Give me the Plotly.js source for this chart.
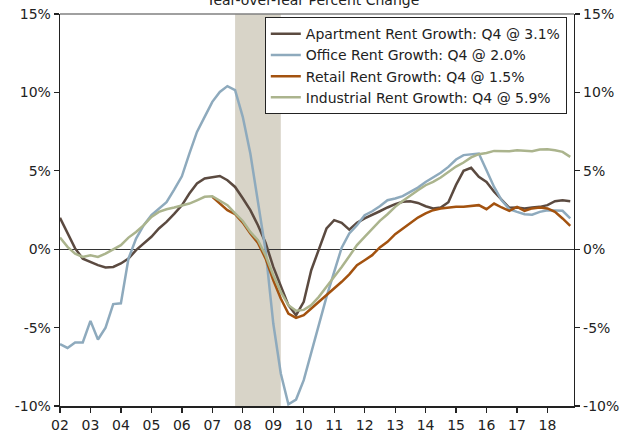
<!DOCTYPE html>
<html>
<head>
<meta charset="utf-8">
<script src="https://cdn.plot.ly/plotly-3.0.1.min.js"></script>
<style>html,body{margin:0;padding:0;background:#fff;}#chart{width:626px;height:435px;}</style>
</head>
<body>
<div id="chart"></div>
<script>
// Quarterly data, 2002 Q1 through 2018 Q4
var startYear = 2002;
var endYear = 2018;

var apartment = [2.0, 1.0, 0.05, -0.6, -0.81, -1.02, -1.17, -1.13, -0.91, -0.6, -0.06, 0.36, 0.79, 1.32, 1.74, 2.25,
  2.8, 3.55, 4.19, 4.51, 4.61, 4.67, 4.4, 3.97, 3.25, 2.49, 1.53, 0.4, -1.13, -2.4, -3.57, -4.21,
  -3.36, -1.34, -0.06, 1.32, 1.85, 1.68, 1.25, 1.68, 1.96, 2.17, 2.42, 2.66, 2.87, 3.02, 3.06, 2.95,
  2.74, 2.6, 2.66, 3.0, 4.1, 5.0, 5.19, 4.61, 4.29, 3.66, 3.12, 2.64, 2.66, 2.6, 2.66, 2.7,
  2.81, 3.06, 3.12, 3.06];

var office = [-6.06, -6.3, -5.95, -5.95, -4.57, -5.76, -5.0, -3.5, -3.45, -0.6, 0.68, 1.53, 2.17, 2.6, 3.0, 3.8,
  4.65, 6.1, 7.48, 8.44, 9.4, 10.03, 10.4, 10.14, 8.44, 6.1, 3.12, -0.1, -4.74, -7.93, -9.89, -9.59,
  -8.35, -6.55, -4.85, -3.04, -1.45, 0.1, 1.0, 1.53, 2.17, 2.42, 2.74, 3.12, 3.23, 3.38, 3.66, 3.93,
  4.29, 4.57, 4.87, 5.25, 5.72, 6.0, 6.06, 6.1, 5.04, 3.97, 3.12, 2.55, 2.38, 2.23, 2.2, 2.38,
  2.49, 2.45, 2.45, 1.96];

var retail = [null, null, null, null, null, null, null, null, null, null, null, null, null, null, null, null,
  null, null, null, null, 3.34, 2.91, 2.49, 2.23, 1.7, 1.0, 0.4, -0.6, -1.98, -3.15, -4.1, -4.38,
  -4.21, -3.78, -3.36, -2.93, -2.51, -2.08, -1.6, -1.02, -0.7, -0.38, 0.11, 0.47, 0.96, 1.32, 1.68, 2.02,
  2.28, 2.49, 2.6, 2.66, 2.7, 2.7, 2.74, 2.81, 2.55, 2.91, 2.66, 2.45, 2.7, 2.45, 2.6, 2.66,
  2.6, 2.38, 1.96, 1.49];

var industrial = [0.74, 0.15, -0.28, -0.49, -0.38, -0.49, -0.28, -0.02, 0.26, 0.74, 1.1, 1.53, 2.06, 2.38, 2.55, 2.66,
  2.78, 2.91, 3.12, 3.34, 3.38, 3.12, 2.81, 2.28, 1.8, 1.1, 0.57, -0.4, -1.66, -2.72, -3.57, -3.93,
  -3.87, -3.57, -3.04, -2.4, -1.77, -1.13, -0.45, 0.26, 0.79, 1.32, 1.81, 2.23, 2.7, 3.08, 3.44, 3.76,
  4.08, 4.29, 4.57, 4.93, 5.27, 5.53, 5.85, 6.06, 6.14, 6.27, 6.27, 6.25, 6.31, 6.27, 6.25, 6.36,
  6.38, 6.31, 6.21, 5.89];

var seriesNames = [
  "Apartment Rent Growth: Q4 @ 3.1%",
  "Office Rent Growth: Q4 @ 2.0%",
  "Retail Rent Growth: Q4 @ 1.5%",
  "Industrial Rent Growth: Q4 @ 5.9%"
];
var yTickVals = [-10, -5, 0, 5, 10, 15];
var yTickText = ["-10%", "-5%", "0%", "5%", "10%", "15%"];
var recession = ["2007-10-01", "2009-04-01"];
var chartTitle = "Year-over-Year Percent Change";

// quarter dates (start of each quarter)
var quarters = [];
for (var y = startYear; y <= endYear; y++) {
  ["01", "04", "07", "10"].forEach(function (m) { quarters.push(y + "-" + m + "-01"); });
}

var colors = ["#5b4a40", "#8eaabd", "#a3520f", "#abb48d"];
var font = "DejaVu Sans, Verdana, sans-serif";
var fs = 14;

var traces = [apartment, office, retail, industrial].map(function (vals, k) {
  return {
    x: quarters, y: vals, type: "scatter", mode: "lines", name: seriesNames[k],
    line: {color: colors[k], width: 2.5}, connectgaps: false, hoverinfo: "x+y"
  };
});
// invisible trace to drive the right-hand axis
traces.push({x: [quarters[0]], y: [0], yaxis: "y2", mode: "markers", marker: {opacity: 0}, showlegend: false, hoverinfo: "skip"});

var yCommon = {
  range: [-10, 15], tickvals: yTickVals, ticktext: yTickText, showgrid: false,
  showline: true, linecolor: "#222", linewidth: 1.3, ticks: "outside", ticklen: 5,
  tickwidth: 1.3, tickcolor: "#222", tickfont: {family: font, size: fs, color: "#222"}, fixedrange: true
};

var layout = {
  width: 626, height: 435,
  margin: {l: 60, r: 52, t: 14, b: 29},
  paper_bgcolor: "#fff", plot_bgcolor: "#fff",
  font: {family: font, size: fs, color: "#222"},
  title: {text: chartTitle, font: {family: font, size: fs, color: "#222"}, x: 0.5, xref: "container", xanchor: "center", y: 0.989, yref: "container", yanchor: "bottom"},
  showlegend: true,
  legend: {x: 0.986, xanchor: "right", y: 0.992, yanchor: "top", bgcolor: "#fff", bordercolor: "#222", borderwidth: 1,
    font: {family: font, size: fs, color: "#222"}, tracegroupgap: 0, itemwidth: 30},
  xaxis: {
    type: "date", range: ["2002-01-01", "2018-11-15"], tickformat: "%y", dtick: "M12", tick0: "2002-01-01",
    showgrid: false, zeroline: false, showline: true, linecolor: "#222", linewidth: 2,
    ticks: "outside", ticklen: 5, tickwidth: 1.3, tickcolor: "#222",
    tickfont: {family: font, size: fs, color: "#222"}, fixedrange: true
  },
  yaxis: Object.assign({}, yCommon, {zeroline: true, zerolinecolor: "#333", zerolinewidth: 1}),
  yaxis2: Object.assign({}, yCommon, {overlaying: "y", side: "right", zeroline: false}),
  shapes: [
    {type: "rect", xref: "x", yref: "paper", x0: recession[0], x1: recession[1], y0: 0, y1: 1,
      fillcolor: "#d8d4c8", line: {width: 0}, layer: "below"},
    {type: "line", xref: "paper", yref: "paper", x0: 0, x1: 1, y0: 1, y1: 1, line: {color: "#808080", width: 1.5}}
  ]
};

Plotly.newPlot("chart", traces, layout, {staticPlot: true, displayModeBar: false});
</script>
</body>
</html>
